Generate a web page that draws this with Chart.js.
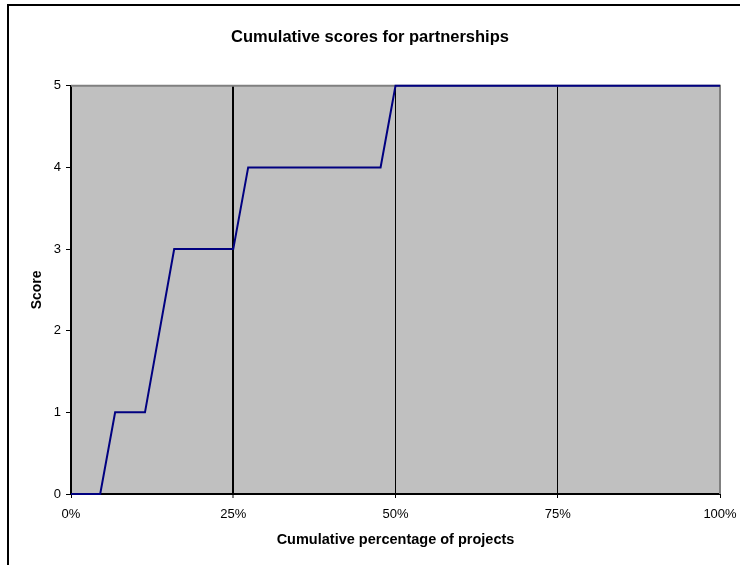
<!DOCTYPE html>
<html>
<head>
<meta charset="utf-8">
<title>Cumulative scores for partnerships</title>
<script src="https://cdn.jsdelivr.net/npm/chart.js@4/dist/chart.umd.min.js"></script>
<style>
  html, body { margin: 0; padding: 0; background: #ffffff; }
  #wrap { width: 740px; height: 565px; position: relative; }
</style>
</head>
<body>
<div id="wrap"><canvas id="chart" width="740" height="565"></canvas></div>
<script>
// Cumulative share of projects (%) at each vertex of the curve, and the score reached there
const cumulativePercent = [0, 4.5, 6.8, 11.4, 15.9, 25, 27.3, 47.7, 50, 100];
const scores            = [0, 0,   1,   1,    3,    3,  4,    4,    5,  5];

// Axis tick labels
const xTicks = [0, 25, 50, 75, 100];
const yTicks = [0, 1, 2, 3, 4, 5];

const points = cumulativePercent.map((p, i) => ({ x: p, y: scores[i] }));

const FONT = '"Liberation Sans", Arial, Helvetica, sans-serif';

// Grey plot area, outer frame, and the grey top/right edges of the plot
const plotDecor = {
  id: 'plotDecor',
  beforeDraw(chart) {
    const { ctx, chartArea: a } = chart;
    ctx.save();
    ctx.fillStyle = '#ffffff';
    ctx.fillRect(0, 0, chart.width, chart.height);
    ctx.fillStyle = '#000000';
    ctx.fillRect(7, 4, 2, chart.height - 4);   // left edge of frame
    ctx.fillRect(7, 4, chart.width - 7, 2);    // top edge of frame
    ctx.fillStyle = '#c0c0c0';
    ctx.fillRect(a.left, a.top, a.right - a.left, a.bottom - a.top);
    ctx.restore();
  },
  beforeDatasetsDraw(chart) {
    const { ctx, chartArea: a } = chart;
    ctx.save();
    ctx.strokeStyle = '#808080';
    ctx.lineWidth = 2;
    ctx.beginPath();
    ctx.moveTo(a.left, a.top);
    ctx.lineTo(a.right, a.top);
    ctx.lineTo(a.right, a.bottom);
    ctx.stroke();
    ctx.restore();
  }
};

new Chart(document.getElementById('chart'), {
  type: 'line',
  data: {
    datasets: [{
      label: 'Score',
      data: points,
      borderColor: '#000080',
      borderWidth: 2,
      pointRadius: 0,
      tension: 0,
      clip: false
    }]
  },
  options: {
    responsive: false,
    animation: false,
    events: [],
    layout: { padding: 0 },
    plugins: {
      legend: { display: false },
      tooltip: { enabled: false },
      title: {
        display: true,
        text: 'Cumulative scores for partnerships',
        color: '#000000',
        font: { family: FONT, size: 16.5, weight: 'bold', lineHeight: 1.2 },
        padding: { top: 28, bottom: 38 }
      }
    },
    scales: {
      x: {
        type: 'linear',
        min: xTicks[0],
        max: xTicks[xTicks.length - 1],
        afterBuildTicks(scale) { scale.ticks = xTicks.map(v => ({ value: v })); },
        afterFit(scale) {
          scale.height = 71;
          scale.paddingLeft = 0;
          scale.paddingRight = 20;
        },
        border: { display: true, color: '#000000', width: 2 },
        grid: {
          drawOnChartArea: true,
          drawTicks: true,
          tickLength: 4,
          tickColor: '#000000',
          tickWidth: 1,
          color: ctx => (ctx.tick && ctx.tick.value === 100) ? 'rgba(0,0,0,0)' : '#000000',
          lineWidth: ctx => (ctx.tick && ctx.tick.value === 25) ? 2 : 1
        },
        ticks: {
          color: '#000000',
          font: { family: FONT, size: 13 },
          padding: 9,
          maxRotation: 0,
          callback: v => v + '%'
        },
        title: {
          display: true,
          text: 'Cumulative percentage of projects',
          color: '#000000',
          font: { family: FONT, size: 14.5, weight: 'bold', lineHeight: 1.2 },
          padding: { top: 0, bottom: 16 }
        }
      },
      y: {
        type: 'linear',
        min: yTicks[0],
        max: yTicks[yTicks.length - 1],
        afterBuildTicks(scale) { scale.ticks = yTicks.map(v => ({ value: v })); },
        afterFit(scale) { scale.width = 71; },
        border: { display: true, color: '#000000', width: 2 },
        grid: {
          drawOnChartArea: false,
          drawTicks: true,
          tickLength: 5,
          tickColor: '#000000',
          tickWidth: 1
        },
        ticks: {
          color: '#000000',
          font: { family: FONT, size: 13 },
          padding: 5
        },
        title: {
          display: true,
          text: 'Score',
          color: '#000000',
          font: { family: FONT, size: 14, weight: 'bold', lineHeight: 1.2 },
          padding: { top: 29, bottom: 0 }
        }
      }
    }
  },
  plugins: [plotDecor]
});
</script>
</body>
</html>
